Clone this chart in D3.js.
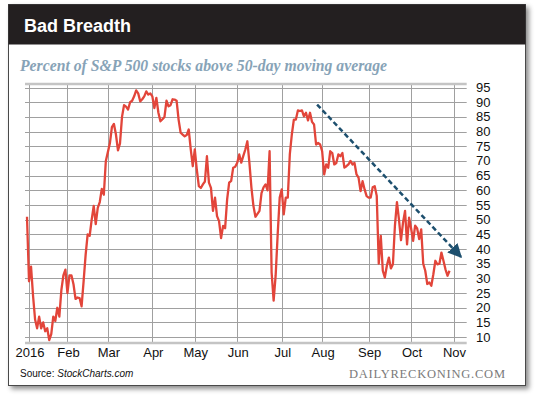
<!DOCTYPE html>
<html>
<head>
<meta charset="utf-8">
<script src="https://cdn.jsdelivr.net/npm/d3@7"></script>
<style>
    html, body { margin: 0; padding: 0; background: #fff; }
    svg { display: block; }
</style>
</head>
<body>
<svg id="chart"></svg>
<script>
(function(){
    "use strict";

    // percent above 50-day MA, one value per trading day (index 0 = Dec 31 2015)
    var breadth = [
        51, 29, 34, 24, 16, 13, 17, 13, 15, 12,
        13, 9, 11, 17, 15.5, 20, 17, 26, 31, 33,
        25, 31, 31, 28, 23, 23.5, 23.3, 20.5, 29, 38,
        45, 44.5, 50, 54.7, 48.5, 54, 56, 60.5, 58.5, 70,
        73, 76, 81.5, 82.6, 79, 73.6, 76, 85, 89, 88.5,
        87.5, 90, 90.5, 92, 94, 93, 90.3, 91, 92, 93.7,
        92.6, 93, 92, 88, 91.5, 86.4, 83.5, 84.2, 85, 90.5,
        88.6, 89, 91, 90.9, 90.5, 84, 79.6, 79, 78.4, 78.8,
        80.7, 73.9, 68.2, 73.9, 67, 61.4, 60.8, 62, 63, 71.6,
        62.6, 60.8, 53, 57.5, 51.2, 49.5, 43.7, 47.9, 47.1, 56.9,
        62.6, 63.2, 67.7, 68, 69.4, 72.2, 69.4, 71.7, 73.9, 76.7,
        69.5, 61, 54.7, 51, 52, 53, 59, 61, 62, 60,
        73.3, 32, 22.4, 31, 45, 57.5, 60.3, 51.8, 57.5, 57.5,
        72.2, 79, 84.1, 84.1, 87.2, 87, 87.2, 85.2, 86.4, 83.8,
        86.4, 83.3, 82.4, 75.6, 76.1, 75.6, 73.3, 65.4, 68.8, 67.7,
        73.3, 72.7, 68.8, 69.3, 72.2, 71.6, 72.7, 67.7, 68.2, 68.8,
        70, 68.8, 69.3, 65.4, 64.3, 59.7, 63.1, 60.3, 58, 57.5,
        57.5, 61, 61.4, 58.1, 35, 44.5, 32.6, 30.3, 34.3, 37.1,
        33.4, 34.8, 48, 56, 50, 43, 49, 53, 41.6, 50.7,
        47, 42.8, 48, 47, 43.4, 46.7, 35, 32.6, 28.1, 28.6,
        27.5, 31.4, 36, 34.8, 35, 38.8, 36, 33.1, 30.9, 32.6
    ];

    // first trading day of each month
    var monthNames = ["2016", "Feb", "Mar", "Apr", "May", "Jun", "Jul", "Aug", "Sep", "Oct", "Nov"];
    var monthIdx = [1, 20, 40, 62, 83, 104, 126, 146, 169, 190, 211];

    var yTicks = [10, 15, 20, 25, 30, 35, 40, 45, 50, 55, 60, 65, 70, 75, 80, 85, 90, 95];

    // dashed trend arrow (trading day, percent)
    var trendDay = [143.5, 214.7];
    var trendVal = [89.2, 37.3];

    var width = 540,
        height = 398;

    var svg = d3.select("svg#chart")
        .attr("width", width)
        .attr("height", height);

    var defs = svg.append("defs");

    var shadow = defs.append("filter")
        .attr("id", "shadow")
        .attr("x", "-5%").attr("y", "-5%")
        .attr("width", "112%").attr("height", "112%");
    shadow.append("feDropShadow")
        .attr("dx", 3).attr("dy", 3)
        .attr("stdDeviation", 2.5)
        .attr("flood-color", "#000")
        .attr("flood-opacity", 0.45);

    defs.append("marker")
        .attr("id", "arrowhead")
        .attr("viewBox", "0 0 10 10")
        .attr("refX", 9).attr("refY", 5)
        .attr("markerWidth", 5.6).attr("markerHeight", 5.6)
        .attr("markerUnits", "strokeWidth")
        .attr("orient", "auto")
        .append("path")
        .attr("d", "M0,0 L10,5 L0,10 Z")
        .attr("fill", "#1d4f6e");

    // card + header
    svg.append("rect")
        .attr("x", 8.5).attr("y", 4.5)
        .attr("width", 517).attr("height", 381)
        .attr("fill", "#fff")
        .attr("stroke", "#4a4a4a")
        .attr("stroke-width", 1)
        .attr("filter", "url(#shadow)");

    svg.append("rect")
        .attr("x", 8.5).attr("y", 4.5)
        .attr("width", 517).attr("height", 40)
        .attr("fill", "#231f20");

    svg.append("text")
        .attr("x", 24).attr("y", 32)
        .attr("fill", "#fff")
        .style("font", "bold 18px 'Liberation Sans', Arial, sans-serif")
        .text("Bad Breadth");

    svg.append("text")
        .attr("x", 20).attr("y", 71)
        .attr("fill", "#87a3b7")
        .attr("textLength", 367)
        .attr("lengthAdjust", "spacingAndGlyphs")
        .style("font", "italic bold 16px 'Liberation Serif', 'DejaVu Serif', serif")
        .text("Percent of S&P 500 stocks above 50-day moving average");

    // scales
    var x = d3.scaleLinear()
        .domain([0, 217.5])
        .range([27, 466.7]);

    var y = d3.scaleLinear()
        .domain([8, 96.2])
        .range([343, 84]);

    var grid = svg.append("g").attr("class", "grid");

    grid.selectAll("line.h")
        .data(yTicks)
        .enter().append("line")
        .attr("class", "h")
        .attr("x1", 25).attr("x2", 466.7)
        .attr("y1", function(d) { return Math.round(y(d)) + 0.5; })
        .attr("y2", function(d) { return Math.round(y(d)) + 0.5; })
        .attr("stroke", "#a0a0a0")
        .attr("stroke-width", 1);

    grid.selectAll("line.v")
        .data(monthIdx)
        .enter().append("line")
        .attr("class", "v")
        .attr("x1", function(d) { return Math.round(x(d)) + 0.5; })
        .attr("x2", function(d) { return Math.round(x(d)) + 0.5; })
        .attr("y1", y(96.2)).attr("y2", y(8))
        .attr("stroke", "#a0a0a0")
        .attr("stroke-width", 1);

    // top and bottom frame lines
    grid.selectAll("line.frame")
        .data([96.2, 8])
        .enter().append("line")
        .attr("class", "frame")
        .attr("x1", 25).attr("x2", 466.7)
        .attr("y1", function(d) { return y(d); })
        .attr("y2", function(d) { return y(d); })
        .attr("stroke", "#c4c4c4")
        .attr("stroke-width", 2.5);

    // right axis labels
    svg.append("g")
        .selectAll("text")
        .data(yTicks)
        .enter().append("text")
        .attr("x", 476)
        .attr("y", function(d) { return y(d); })
        .attr("dy", "0.35em")
        .attr("fill", "#111")
        .style("font", "13px 'Liberation Sans', Arial, sans-serif")
        .text(function(d) { return d; });

    // month labels
    svg.append("g")
        .selectAll("text")
        .data(monthIdx)
        .enter().append("text")
        .attr("x", function(d) { return x(d) + 1; })
        .attr("y", 356.5)
        .attr("text-anchor", "middle")
        .attr("fill", "#111")
        .style("font", "13px 'Liberation Sans', Arial, sans-serif")
        .text(function(d, i) { return monthNames[i]; });

    // the series
    var line = d3.line()
        .x(function(d, i) { return x(i); })
        .y(function(d) { return y(d); });

    svg.append("path")
        .datum(breadth)
        .attr("d", line)
        .attr("fill", "none")
        .attr("stroke", "#e2453a")
        .attr("stroke-width", 2.3)
        .attr("stroke-linejoin", "round");

    // trend arrow
    svg.append("line")
        .attr("x1", x(trendDay[0])).attr("y1", y(trendVal[0]))
        .attr("x2", x(trendDay[1])).attr("y2", y(trendVal[1]))
        .attr("stroke", "#1d4f6e")
        .attr("stroke-width", 2.5)
        .attr("stroke-dasharray", "5,3")
        .attr("marker-end", "url(#arrowhead)");

    // footer
    var src = svg.append("text")
        .attr("x", 20).attr("y", 377)
        .attr("fill", "#111")
        .style("font", "10px 'Liberation Sans', Arial, sans-serif");
    src.append("tspan").text("Source: ");
    src.append("tspan").style("font-style", "italic").text("StockCharts.com");

    svg.append("text")
        .attr("x", 349).attr("y", 378)
        .attr("fill", "#7a7a7a")
        .attr("textLength", 156)
        .attr("lengthAdjust", "spacing")
        .style("font", "12.5px 'Liberation Serif', 'DejaVu Serif', serif")
        .text("DAILYRECKONING.COM");

})();
</script>
</body>
</html>
